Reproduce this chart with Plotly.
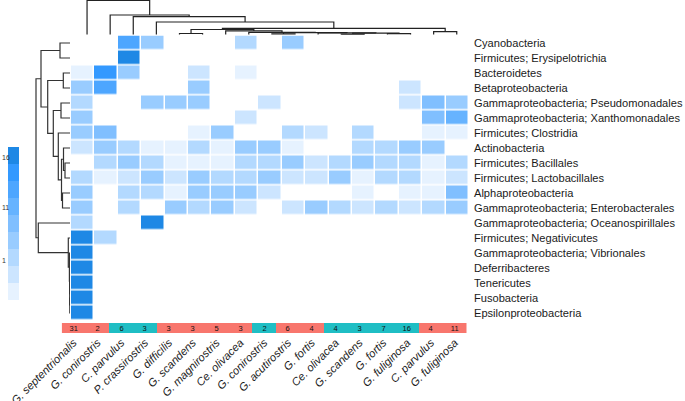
import plotly.graph_objects as go

W, H = 685, 401

# ---------------- data ----------------
row_labels = [
    "Cyanobacteria", "Firmicutes; Erysipelotrichia", "Bacteroidetes", "Betaproteobacteria",
    "Gammaproteobacteria; Pseudomonadales", "Gammaproteobacteria; Xanthomonadales",
    "Firmicutes; Clostridia", "Actinobacteria", "Firmicutes; Bacillales",
    "Firmicutes; Lactobacillales", "Alphaproteobacteria", "Gammaproteobacteria; Enterobacterales",
    "Gammaproteobacteria; Oceanospirillales", "Firmicutes; Negativicutes",
    "Gammaproteobacteria; Vibrionales", "Deferribacteres", "Tenericutes", "Fusobacteria",
    "Epsilonproteobacteria",
]
col_labels = [
    "G. septentrionalis", "G. conirostris", "C. parvulus", "P. crassirostris", "G. difficilis",
    "G. scandens", "G. magnirostris", "Ce. olivacea", "G. conirostris", "G. acutirostris",
    "G. fortis", "Ce. olivacea", "G. scandens", "G. fortis", "G. fuliginosa", "C. parvulus",
    "G. fuliginosa",
]
col_counts = [31, 2, 6, 3, 3, 3, 5, 3, 2, 6, 4, 4, 3, 7, 16, 4, 11]
col_groups = [0, 0, 1, 1, 0, 0, 0, 0, 1, 0, 0, 1, 1, 1, 1, 0, 0]

# colour level of every cell (0 = empty, 9 = darkest)
levels = [
    [0, 0, 7, 4, 0, 0, 0, 3, 0, 4, 0, 0, 0, 0, 0, 0, 0],
    [0, 0, 9, 0, 0, 0, 0, 0, 0, 0, 0, 0, 0, 0, 0, 0, 0],
    [1, 8, 4, 0, 0, 2, 0, 1, 0, 0, 0, 0, 0, 0, 0, 0, 0],
    [4, 7, 0, 0, 0, 4, 0, 0, 0, 0, 0, 0, 0, 0, 2, 0, 0],
    [3, 0, 0, 4, 4, 4, 0, 0, 2, 0, 0, 0, 0, 0, 2, 5, 4],
    [4, 0, 0, 0, 0, 0, 0, 2, 0, 0, 0, 0, 0, 0, 0, 5, 6],
    [4, 5, 0, 0, 0, 1, 4, 0, 0, 3, 2, 0, 3, 0, 0, 1, 1],
    [2, 4, 3, 1, 1, 3, 1, 4, 4, 1, 0, 0, 3, 3, 4, 4, 0],
    [0, 3, 4, 3, 1, 1, 1, 3, 3, 4, 2, 3, 4, 3, 3, 1, 3],
    [3, 1, 2, 4, 2, 4, 3, 3, 4, 2, 2, 4, 1, 3, 3, 1, 2],
    [4, 0, 3, 3, 1, 4, 4, 4, 2, 0, 0, 0, 1, 0, 1, 1, 5],
    [4, 0, 3, 0, 4, 3, 4, 2, 0, 2, 4, 3, 2, 3, 2, 3, 4],
    [3, 0, 0, 9, 0, 0, 0, 0, 0, 0, 0, 0, 0, 0, 0, 0, 0],
    [9, 3, 0, 0, 0, 0, 0, 0, 0, 0, 0, 0, 0, 0, 0, 0, 0],
    [9, 0, 0, 0, 0, 0, 0, 0, 0, 0, 0, 0, 0, 0, 0, 0, 0],
    [9, 0, 0, 0, 0, 0, 0, 0, 0, 0, 0, 0, 0, 0, 0, 0, 0],
    [9, 0, 0, 0, 0, 0, 0, 0, 0, 0, 0, 0, 0, 0, 0, 0, 0],
    [9, 0, 0, 0, 0, 0, 0, 0, 0, 0, 0, 0, 0, 0, 0, 0, 0],
    [9, 0, 0, 0, 0, 0, 0, 0, 0, 0, 0, 0, 0, 0, 0, 0, 0],
]

legend_levels = [1, 2, 3, 4, 5, 6, 7, 8, 9]
legend_ticks = ["0", "1", "11", "16"]
legend_tick_pos = [0.1, 2.85, 5.97, 8.9]

# dendrogram merges (scipy-like: leaves 0..n-1, merge i -> id n+i), heights
row_merges = [
    (0, 1, 10.0), (2, 3, 6.7), (4, 5, 9.0), (8, 9, 5.0), (7, 22, 6.5), (10, 11, 7.5),
    (23, 24, 8.5), (6, 25, 11.7), (21, 26, 16.7), (20, 27, 22.3), (19, 28, 29.0),
    (17, 18, 0.2), (16, 30, 0.3), (15, 31, 0.4), (14, 32, 0.6), (13, 33, 1.7),
    (12, 34, 31.7), (29, 35, 34.0),
]
col_merges = [
    (4, 5, 1.0), (11, 12, 0.4), (13, 14, 0.9), (18, 19, 1.4), (10, 20, 1.6), (8, 9, 0.6),
    (22, 21, 1.8), (7, 23, 2.2), (6, 24, 3.6), (17, 25, 5.0), (15, 16, 2.8), (26, 27, 6.2),
    (3, 28, 12.5), (2, 29, 17.8), (1, 30, 19.5), (0, 31, 34.0),
]

shades = ["#ffffff", "#e6f2ff", "#cce5ff", "#b3d9ff", "#99ccff", "#80bfff",
          "#66b3ff", "#4da6ff", "#3399ff", "#1e88e5"]
group_colors = ["#f8766d", "#1fbec4"]
FONT = "Liberation Sans, Arial, Helvetica, sans-serif"


def dendro_segments(n, merges):
    pos = {i: float(i) for i in range(n)}
    hgt = {i: 0.0 for i in range(n)}
    P, Hh = [], []
    for k, (a, b, h) in enumerate(merges):
        pa, pb = pos[a], pos[b]
        P += [pa, pa, pb, pb, None]
        Hh += [hgt[a], h, h, hgt[b], None]
        pos[n + k] = (pa + pb) / 2
        hgt[n + k] = h
    return P, Hh


def px_x(v):
    return v / W


def px_y(v):
    return 1 - v / H


nc = len(shades)
cscale = []
for i, c in enumerate(shades):
    cscale += [[i / nc, c], [(i + 1) / nc, c]]

fig = go.Figure()

# main heatmap
fig.add_trace(go.Heatmap(
    z=levels, x=list(range(len(col_labels))), y=list(range(len(row_labels))),
    colorscale=cscale, zmin=-0.5, zmax=nc - 0.5, showscale=False,
    xgap=1.5, ygap=1.5, hoverinfo="skip", xaxis="x", yaxis="y"))

# column dendrogram
cx, cy = dendro_segments(len(col_labels), col_merges)
fig.add_trace(go.Scatter(x=cx, y=cy, mode="lines", line=dict(color="#222222", width=1.2),
                         xaxis="x2", yaxis="y2", cliponaxis=False, hoverinfo="skip",
                         showlegend=False))

# row dendrogram
ry, rx = dendro_segments(len(row_labels), row_merges)
fig.add_trace(go.Scatter(x=rx, y=ry, mode="lines", line=dict(color="#333333", width=1.2),
                         xaxis="x3", yaxis="y3", cliponaxis=False, hoverinfo="skip",
                         showlegend=False))

# annotation bar
fig.add_trace(go.Heatmap(
    z=[col_groups], x=list(range(len(col_labels))), y=[0],
    text=[[str(v) for v in col_counts]], texttemplate="%{text}",
    textfont=dict(size=7.5, color="#111111", family=FONT),
    colorscale=[[0, group_colors[0]], [0.5, group_colors[0]], [0.5, group_colors[1]], [1, group_colors[1]]],
    zmin=0, zmax=1, showscale=False, hoverinfo="skip", xaxis="x4", yaxis="y4"))

# colour legend
fig.add_trace(go.Heatmap(
    z=[[v] for v in legend_levels], x=[0], y=legend_levels,
    colorscale=cscale, zmin=-0.5, zmax=nc - 0.5, showscale=False, hoverinfo="skip",
    xaxis="x5", yaxis="y5"))

annotations = []
for i, lab in enumerate(row_labels):
    annotations.append(dict(x=px_x(472), y=i, xref="paper", yref="y", text=lab,
                            showarrow=False, xanchor="left", yanchor="middle",
                            font=dict(size=11.1, color="#1a1a1a", family=FONT)))
for lab, p in zip(legend_ticks, legend_tick_pos):
    annotations.append(dict(x=0, y=p, xref="paper", yref="y5", text=lab,
                            showarrow=False, xanchor="left", yanchor="middle",
                            font=dict(size=7, color="#333333", family=FONT)))

hidden = dict(visible=False, showgrid=False, zeroline=False, fixedrange=True, automargin=False)
fig.update_layout(
    width=W, height=H, margin=dict(l=0, r=0, t=0, b=0, pad=0, autoexpand=False),
    paper_bgcolor="white", plot_bgcolor="rgba(0,0,0,0)", showlegend=False,
    font=dict(family=FONT, color="#1a1a1a"),
    xaxis=dict(hidden, domain=[px_x(71), px_x(469)], range=[-0.5, 16.5]),
    yaxis=dict(hidden, domain=[px_y(320.5), px_y(35.5)], range=[18.5, -0.5]),
    xaxis2=dict(hidden, domain=[px_x(75.5), px_x(468.3)], range=[-0.5, 16.5]),
    yaxis2=dict(hidden, domain=[px_y(35), 1], range=[-0.5, 34.5]),
    xaxis3=dict(hidden, domain=[0, px_x(70)], range=[70, 0]),
    yaxis3=dict(hidden, domain=[px_y(320.5), px_y(35.5)], range=[18.5, -0.5]),
    xaxis4=dict(domain=[px_x(61.7), px_x(466.7)], range=[-0.5, 16.5], showgrid=False,
                zeroline=False, showline=False, ticks="", tickmode="array",
                tickvals=list(range(len(col_labels))), ticktext=col_labels, tickangle=-45,
                tickfont=dict(size=11.2, style="italic", color="#1a1a1a", family=FONT),
                anchor="y4", fixedrange=True, automargin=False),
    yaxis4=dict(hidden, domain=[px_y(333), px_y(323)], range=[-0.5, 0.5], anchor="x4"),
    xaxis5=dict(hidden, domain=[px_x(8), px_x(19)], range=[-0.5, 0.5]),
    yaxis5=dict(hidden, domain=[px_y(300), px_y(147)], range=[0.5, 9.5], anchor="x5"),
    annotations=annotations,
)

fig.write_html("out.html", config={"responsive": False, "displayModeBar": False},
               post_script="document.body.style.margin='0';document.body.style.padding='0';")
